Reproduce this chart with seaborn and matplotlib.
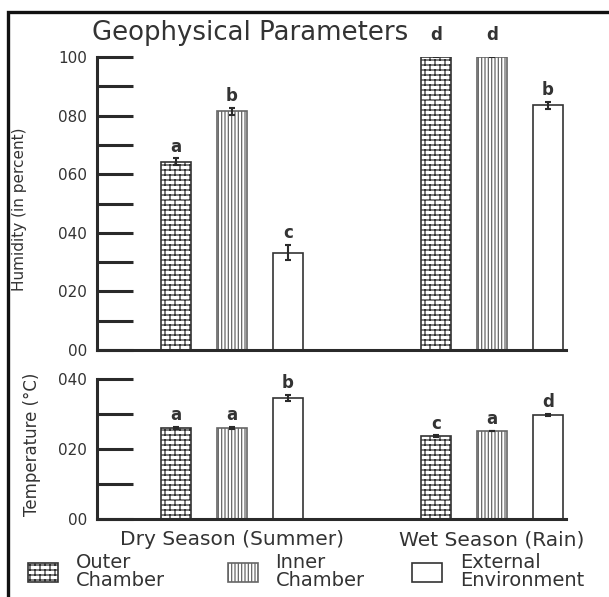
import warnings
warnings.filterwarnings("ignore")
import numpy as np
import pandas as pd
import matplotlib
matplotlib.use("Agg")
import matplotlib.pyplot as plt
import matplotlib.hatch as mhatch
from matplotlib.path import Path
from matplotlib.patches import Patch, Rectangle
import seaborn as sns

# ---------------- data ----------------
seasons = ["Dry Season (Summer)", "Wet Season (Rain)"]
locations = ["Outer Chamber", "Inner Chamber", "External Environment"]
legend_labels = ["Outer\nChamber", "Inner\nChamber", "External\nEnvironment"]

humidity_dry = [64.2, 81.5, 33.2]
humidity_wet = [100.0, 100.0, 83.5]
# error bars (lower, upper); upper errors of the 100 % bars fall outside the axis
humidity_err_dry_low = [1.2, 1.2, 2.6]
humidity_err_dry_up = [1.2, 1.2, 2.6]
humidity_err_wet_low = [0.0, 0.0, 1.2]
humidity_err_wet_up = [3.5, 3.5, 1.2]
humidity_letters_dry = ["a", "b", "c"]
humidity_letters_wet = ["d", "d", "b"]

temp_dry = [26.0, 26.0, 34.6]
temp_wet = [23.7, 25.1, 29.7]
temp_err_dry = [0.4, 0.3, 0.8]
temp_err_wet = [0.15, 0.1, 0.4]
temp_letters_dry = ["a", "a", "b"]
temp_letters_wet = ["c", "a", "d"]

humidity_ticks = [0, 10, 20, 30, 40, 50, 60, 70, 80, 90, 100]
humidity_ticklabels = ["00", "", "020", "", "040", "", "060", "", "080", "", "100"]
temp_ticks = [0, 10, 20, 30, 40]
temp_ticklabels = ["00", "", "020", "", "040"]


# ---------------- custom brick hatch ----------------
class BrickHatch(mhatch.HatchPatternBase):
    def __init__(self, hatch, density):
        self.n = int(round(hatch.count("O") * density * 10 / 6))
        if self.n:
            rows = 2 * self.n
            self.num_vertices = 2 * (rows + 1) + 2 * rows * (self.n + 1)
        else:
            self.num_vertices = 0

    def set_vertices_and_codes(self, vertices, codes):
        n = self.n
        rows = 2 * n
        i = 0
        for r in range(rows + 1):
            y = r / rows
            vertices[i] = (0, y)
            vertices[i + 1] = (1, y)
            codes[i] = Path.MOVETO
            codes[i + 1] = Path.LINETO
            i += 2
        for r in range(rows):
            off = 0.5 if r % 2 else 0.0
            for c in range(n + 1):
                x = (c + off) / n
                vertices[i] = (x, r / rows)
                vertices[i + 1] = (x, (r + 1) / rows)
                codes[i] = Path.MOVETO
                codes[i + 1] = Path.LINETO
                i += 2


mhatch._hatch_types = [
    mhatch.HorizontalHatch, mhatch.VerticalHatch, mhatch.NorthEastHatch,
    mhatch.SouthEastHatch, mhatch.SmallCircles, BrickHatch,
    mhatch.SmallFilledCircles, mhatch.Stars,
]

sns.set_style("white")
plt.rcParams["font.family"] = ["DejaVu Sans"]
plt.rcParams["hatch.linewidth"] = 0.9

hatches = ["O", "|||||", ""]
edgecolors = ["#333333", "#666666", "#333333"]
dark = "#2a2a2a"
textc = "#333333"

hum_df = pd.DataFrame({
    "season": [seasons[0]] * 3 + [seasons[1]] * 3,
    "location": locations * 2,
    "value": humidity_dry + humidity_wet,
})
tmp_df = pd.DataFrame({
    "season": [seasons[0]] * 3 + [seasons[1]] * 3,
    "location": locations * 2,
    "value": temp_dry + temp_wet,
})

fig = plt.figure(figsize=(6.09, 5.97), dpi=100)
ax1 = fig.add_axes([0.1593, 0.4137, 0.7701, 0.4908])
ax2 = fig.add_axes([0.1593, 0.1307, 0.7701, 0.2345])


def draw(ax, df, errs_low, errs_up, letters, ticks, ticklabels, ylim):
    sns.barplot(data=df, x="season", y="value", hue="location",
                order=seasons, hue_order=locations,
                palette=["white"] * 3, width=0.646, gap=0.464,
                edgecolor="#333333", linewidth=1.2, errorbar=None,
                legend=False, ax=ax)
    bar_conts = list(ax.containers)
    for i, cont in enumerate(bar_conts):
        for j, bar in enumerate(cont):
            bar.set_hatch(hatches[i])
            bar.set_edgecolor(edgecolors[i])
            bar.set_facecolor("white")
            x = bar.get_x() + bar.get_width() / 2
            y = bar.get_height()
            lo = errs_low[j][i]
            up = errs_up[j][i]
            ax.errorbar(x, y, yerr=[[lo], [up]], fmt="none", ecolor=dark,
                        elinewidth=1.5, capsize=2.5, capthick=1.5, zorder=5)
            ax.annotate(letters[j][i], (x, y + up), xytext=(0, 2),
                        textcoords="offset points", ha="center", va="bottom",
                        fontsize=12, fontweight="bold", color=textc,
                        annotation_clip=False)
    ax.set_xlim(-0.519, 1.285)
    ax.set_ylim(*ylim)
    ax.set_yticks(ticks)
    ax.set_yticklabels(ticklabels)
    ax.tick_params(axis="y", left=True, direction="in", length=26, width=2.2,
                   color=dark, labelsize=11, pad=7, labelcolor=textc)
    ax.tick_params(axis="x", bottom=False, length=0, pad=8, labelsize=14.5,
                   labelcolor=textc)
    for s in ["top", "right"]:
        ax.spines[s].set_visible(False)
    for s in ["left", "bottom"]:
        ax.spines[s].set_linewidth(2.2)
        ax.spines[s].set_color(dark)
    ax.set_xlabel("")


draw(ax1, hum_df, [humidity_err_dry_low, humidity_err_wet_low],
     [humidity_err_dry_up, humidity_err_wet_up],
     [humidity_letters_dry, humidity_letters_wet],
     humidity_ticks, humidity_ticklabels, (0, 100))
draw(ax2, tmp_df, [temp_err_dry, temp_err_wet], [temp_err_dry, temp_err_wet],
     [temp_letters_dry, temp_letters_wet],
     temp_ticks, temp_ticklabels, (0, 40))

ax1.tick_params(axis="x", labelbottom=False)
ax1.set_ylabel("Humidity (in percent)", fontsize=11, color=textc)
ax1.yaxis.set_label_coords(-0.149, 0.48)
ax2.set_ylabel("Temperature (°C)", fontsize=12, color=textc)
ax2.yaxis.set_label_coords(-0.119, 0.53)

fig.text(0.41, 0.945, "Geophysical Parameters", ha="center", va="center",
         fontsize=18.7, color=textc)

# legend (three entries placed across the bottom)
anchors = [0.046, 0.374, 0.677]
for i in range(3):
    h = Patch(facecolor="white", edgecolor=edgecolors[i], hatch=hatches[i],
              linewidth=1.2)
    leg = fig.legend(handles=[h], labels=[legend_labels[i]], loc="center left",
                     bbox_to_anchor=(anchors[i], 0.043), frameon=False,
                     fontsize=14, handlelength=1.55, handleheight=1.15,
                     handletextpad=0.9, labelcolor=textc, borderpad=0,
                     borderaxespad=0)
    for t in leg.get_texts():
        t.set_linespacing(0.9)

# outer frame
fig.patches.append(Rectangle((8 / 609, -0.1), 1.2, 1.1 - 12 / 597,
                             transform=fig.transFigure, fill=False,
                             edgecolor="#111111", linewidth=2.4))

fig.savefig("out.png", dpi=100, facecolor="white")
